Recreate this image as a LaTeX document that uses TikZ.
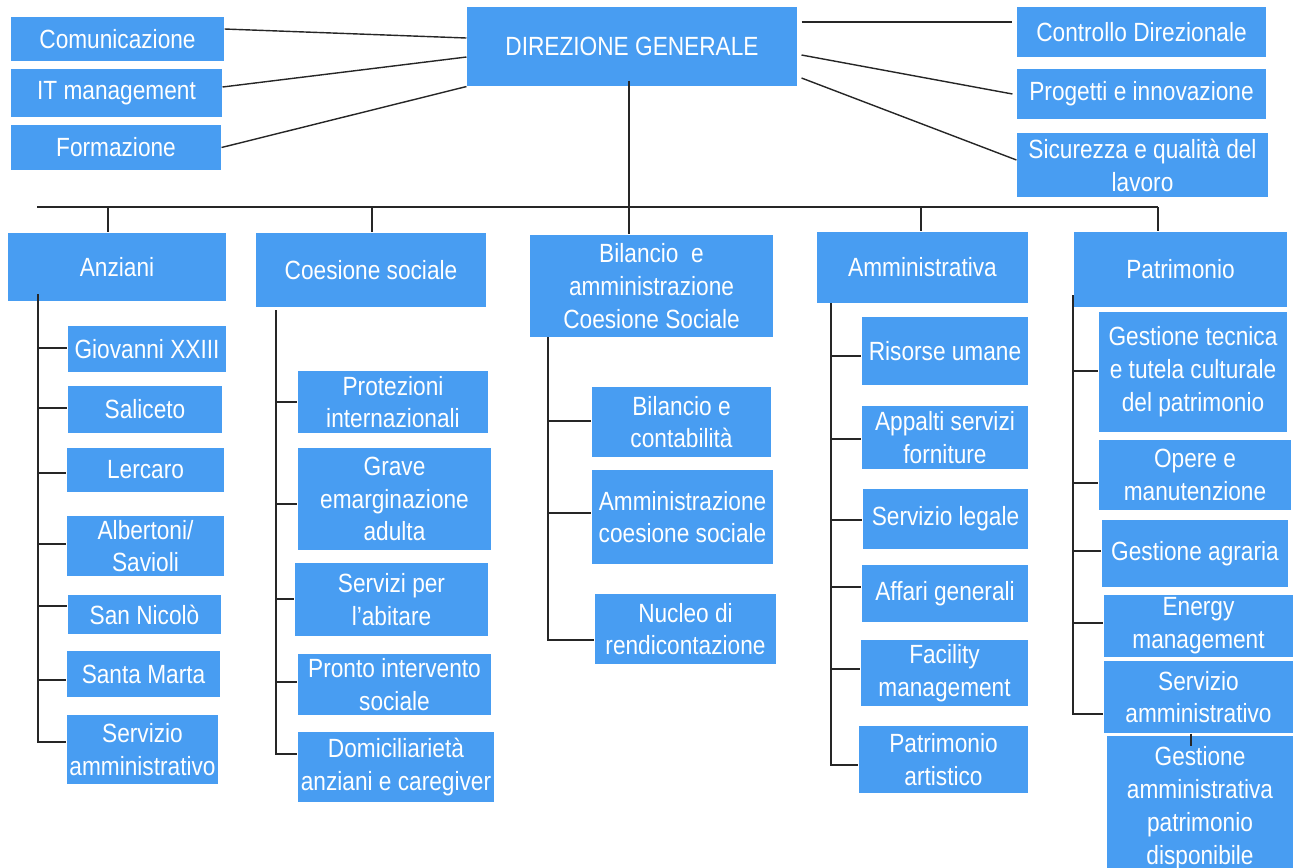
\documentclass[tikz,border=0pt]{standalone}
\usepackage{fontspec}
\setmainfont{Liberation Sans}[FakeStretch=0.86]
\usetikzlibrary{calc}
\definecolor{boxblue}{RGB}{72,157,242}

\begin{document}
\begin{tikzpicture}[x=0.02cm, y=-0.02cm, line width=0.6pt,
    box/.style 2 args={rectangle, fill=boxblue, text=white, inner sep=0pt, align=center,
      font=\fontsize{15}{18.7}\selectfont, minimum width=#1*0.02cm, minimum height=#2*0.02cm},
    link/.style={draw=black!85}]
  \useasboundingbox (0,0) rectangle (1293,867);
  \clip (0,0) rectangle (1293,867);

  % vertice
  \node[box={330}{79}] (dg) at (632,46.5) {DIREZIONE GENERALE};
  \node[box={213}{44}] (comm) at (117.5,39) {Comunicazione};
  \node[box={211}{48}] (itm) at (116.5,93) {IT management};
  \node[box={210}{45}] (form) at (116,147.5) {Formazione};
  \node[box={249}{50}] (ctrl) at (1141.5,32) {Controllo Direzionale};
  \node[box={249}{50}] (prog) at (1141.5,94) {Progetti e innovazione};
  \node[box={251}{64}] (sic) at (1142.5,165) {Sicurezza e qualità del\\lavoro};

  \draw[link, line width=0.8pt] ($(comm.east)+(0,-10)$) -- ($(dg.west)+(0,-8.5)$);
  \draw[link, line width=0.8pt] ($(itm.east)+(0,-6)$) -- ($(dg.west)+(0,10.5)$);
  \draw[link, line width=0.8pt] (form.east) -- (dg.south west);
  \draw[link] ($(dg.east)+(4,-24.5)$) -- ($(ctrl.west)+(-4,-10)$);
  \draw[link, line width=0.8pt] ($(dg.east)+(4,8.5)$) -- ($(prog.west)+(-4,0)$);
  \draw[link, line width=0.8pt] ($(dg.east)+(4,31.5)$) -- ($(sic.west)+(0,-5)$);

  % aree
  \node[box={218}{68}] (anz) at (117,267) {Anziani};
  \node[box={230}{74}] (coes) at (371,270) {Coesione sociale};
  \node[box={243}{102}] (bil) at (651.5,286) {Bilancio\ \ e\\amministrazione\\Coesione Sociale};
  \node[box={211}{71}] (amm) at (922.5,267.5) {Amministrativa};
  \node[box={213}{75}] (pat) at (1180.5,269.5) {Patrimonio};

  \coordinate (barL) at (37,207);
  \coordinate (barR) at (1158,207);
  \coordinate (tanz) at (108,207);
  \coordinate (tcoes) at (372,207);
  \coordinate (tamm) at (921,207);
  \draw[link] (barL) -- (barR);
  \draw[link] ($(dg.south)+(-3,-6)$) -- ($(bil.north)+(-22.5,0)$);
  \draw[link] (tanz) -- (tanz |- anz.north);
  \draw[link] (tcoes) -- (tcoes |- coes.north);
  \draw[link, line width=0.9pt] (tamm) -- (tamm |- amm.north);
  \draw[link] (barR) -- (barR |- pat.north);

  % Anziani
  \node[box={158}{46}] (a1) at (147,349) {Giovanni XXIII};
  \node[box={154}{47}] (a2) at (145,409.5) {Saliceto};
  \node[box={157}{44}] (a3) at (145.5,470) {Lercaro};
  \node[box={157}{60}] (a4) at (145.5,546) {Albertoni/\\Savioli};
  \node[box={153}{39}] (a5) at (144.5,614.5) {San Nicolò};
  \node[box={153}{46}] (a6) at (143.5,674) {Santa Marta};
  \node[box={151}{69}] (a7) at (142.5,749.5) {Servizio\\amministrativo};
  \coordinate (sanz) at (38,294);
  \foreach \c/\dy in {a1/-1,a2/-1.5,a3/3,a4/-2,a5/-8.5,a6/6,a7/-7.5}
    \draw[link] (sanz) |- ($(\c.west)+(0,\dy)$);

  % Coesione sociale
  \node[box={190}{62}] (c1) at (393,402) {Protezioni\\internazionali};
  \node[box={193}{102}] (c2) at (394.5,499) {Grave\\emarginazione\\adulta};
  \node[box={193}{73}] (c3) at (391.5,599.5) {Servizi per\\l’abitare};
  \node[box={193}{61}] (c4) at (394.5,684.5) {Pronto intervento\\sociale};
  \node[box={196}{70}] (c5) at (396,767) {Domiciliarietà\\anziani e caregiver};
  \coordinate (scoes) at (276,310);
  \foreach \c/\dy in {c1/0,c2/5,c3/-0.5,c4/-2.5,c5/-13}
    \draw[link] (scoes) |- ($(\c.west)+(0,\dy)$);

  % Bilancio
  \node[box={179}{70}] (b1) at (681.5,422) {Bilancio e\\contabilità};
  \node[box={181}{94}] (b2) at (682.5,517) {Amministrazione\\coesione sociale};
  \node[box={181}{70}] (b3) at (685.5,629) {Nucleo di\\rendicontazione};
  \coordinate (sbil) at (548,337);
  \foreach \c/\dy in {b1/-1,b2/-4,b3/11}
    \draw[link] (sbil) |- ($(\c.west)+(0,\dy)$);

  % Amministrativa
  \node[box={166}{68}] (m1) at (945,351) {Risorse umane};
  \node[box={166}{63}] (m2) at (945,437.5) {Appalti servizi\\forniture};
  \node[box={165}{60}] (m3) at (945.5,519) {Servizio legale};
  \node[box={166}{57}] (m4) at (945,593.5) {Affari generali};
  \node[box={167}{66}] (m5) at (944.5,673) {Facility\\management};
  \node[box={169}{67}] (m6) at (943.5,759.5) {Patrimonio\\artistico};
  \coordinate (samm) at (831,303);
  \foreach \c/\dy in {m1/5,m2/1.5,m3/1,m4/-6.5,m5/-4,m6/5.5}
    \draw[link] (samm) |- ($(\c.west)+(0,\dy)$);

  % Patrimonio
  \node[box={188}{120}] (p1) at (1193,372) {Gestione tecnica\\e tutela culturale\\del patrimonio};
  \node[box={192}{70}] (p2) at (1195,475) {Opere e\\manutenzione};
  \node[box={186}{67}] (p3) at (1195,553.5) {Gestione agraria};
  \node[box={189}{62}] (p4) at (1198.5,626) {Energy\\management};
  \node[box={189}{72}] (p5) at (1198.5,697) {Servizio\\amministrativo};
  \node[box={186}{144}] (p6) at (1200,808) {Gestione\\amministrativa\\patrimonio\\disponibile};
  \coordinate (spat) at (1073,295);
  \foreach \c/\dy in {p1/-1,p2/8,p3/-2.5,p4/-3,p5/17}
    \draw[link, line width=0.8pt] (spat) |- ($(\c.west)+(0,\dy)$);
  \draw[link] ($(p5.south)+(-7.5,0)$) -- ($(p5.south)+(-7.5,12)$);
\end{tikzpicture}
\end{document}
